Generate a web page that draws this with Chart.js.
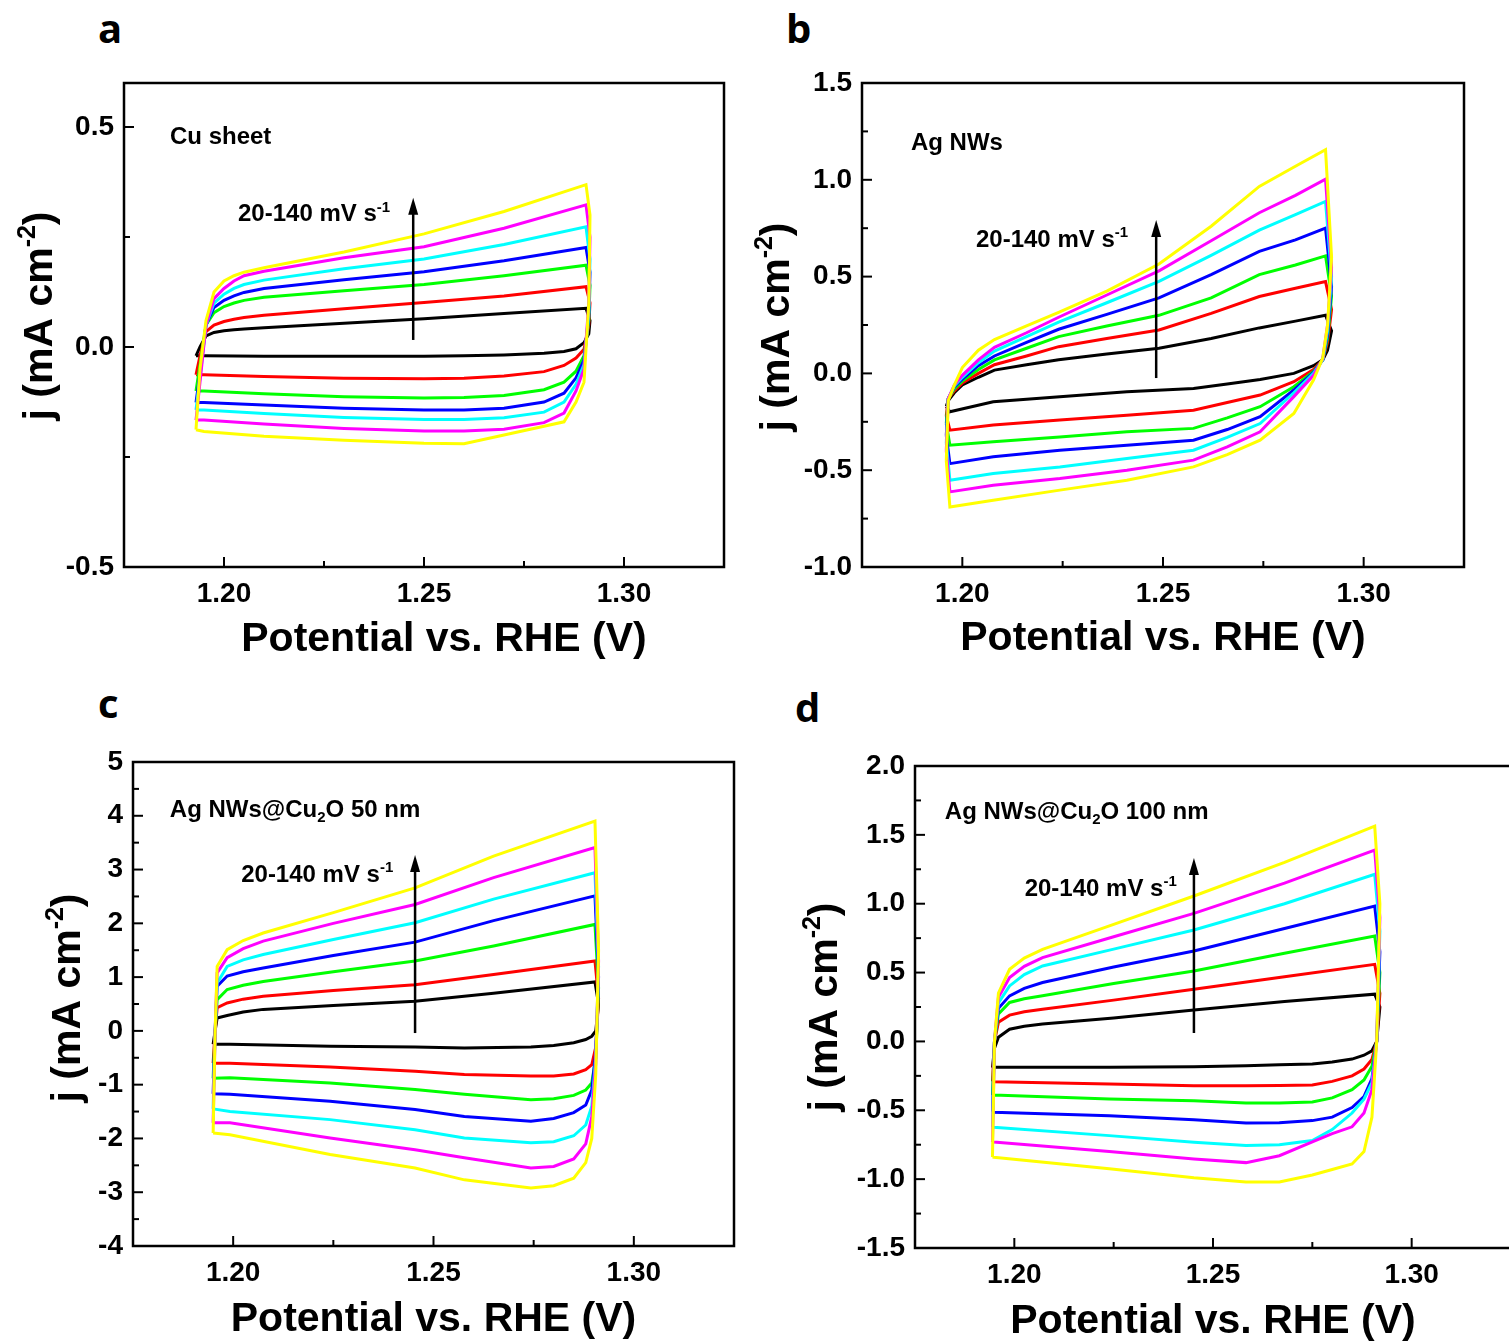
<!DOCTYPE html>
<html>
<head>
<meta charset="utf-8">
<title>CV curves</title>
<script src="https://cdn.jsdelivr.net/npm/chart.js@4.4.0/dist/chart.umd.min.js"></script>
<style>
  html, body { margin: 0; padding: 0; background: #fff; }
  body { width: 1509px; height: 1342px; overflow: hidden; position: relative; }
  canvas { position: absolute; }
  .tag { position: absolute; font: bold 40px 'Open Sans', sans-serif; line-height: 40px; color: #000; }
</style>
</head>
<body>
<div class="tag" style="left:98px; top:8px">a</div>
<div class="tag" style="left:786px; top:8px">b</div>
<div class="tag" style="left:98px; top:683px">c</div>
<div class="tag" style="left:795px; top:687px">d</div>

<canvas id="cvA" width="760" height="640" style="left:0px; top:40px"></canvas>
<canvas id="cvB" width="769" height="640" style="left:740px; top:40px"></canvas>
<canvas id="cvC" width="760" height="627" style="left:0px; top:715px"></canvas>
<canvas id="cvD" width="760" height="622" style="left:760px; top:720px"></canvas>

<script>
const FONT = "'Liberation Sans', Arial, Helvetica, sans-serif";
const sweepColors = ['#000000', '#ff0000', '#00ff00', '#0000ff', '#00ffff', '#ff00ff', '#ffff00'];
const scanRates = [20, 40, 60, 80, 100, 120, 140];

const xMajor = [1.20, 1.25, 1.30];
const xMinor = [1.225, 1.275];

// ---- (a) Cu sheet ----
const cuUpX = [1.1930, 1.1940, 1.1955, 1.1975, 1.2000, 1.2025, 1.2050, 1.2100, 1.2300, 1.2500, 1.2700, 1.2905];
const cuUp = [
  [-0.020, 0.000, 0.025, 0.033, 0.037, 0.039, 0.041, 0.044, 0.054, 0.064, 0.076, 0.088],
  [-0.063, -0.020, 0.035, 0.050, 0.058, 0.063, 0.067, 0.072, 0.087, 0.101, 0.116, 0.137],
  [-0.100, -0.040, 0.050, 0.078, 0.092, 0.100, 0.106, 0.113, 0.128, 0.142, 0.162, 0.186],
  [-0.126, -0.060, 0.050, 0.090, 0.106, 0.116, 0.124, 0.133, 0.153, 0.171, 0.196, 0.226],
  [-0.143, -0.070, 0.050, 0.100, 0.120, 0.133, 0.142, 0.152, 0.178, 0.200, 0.233, 0.273],
  [-0.166, -0.080, 0.050, 0.110, 0.133, 0.150, 0.162, 0.172, 0.203, 0.228, 0.270, 0.323],
  [-0.188, -0.050, 0.060, 0.125, 0.150, 0.162, 0.170, 0.180, 0.216, 0.257, 0.308, 0.369]
];
const cuDownX = [1.2915, 1.2912, 1.2900, 1.2880, 1.2850, 1.2800, 1.2700, 1.2600, 1.2500, 1.2300, 1.2100, 1.1950, 1.1930];
const cuDown = [
  [0.060, 0.030, 0.010, -0.004, -0.010, -0.014, -0.018, -0.020, -0.021, -0.021, -0.021, -0.020, -0.020],
  [0.100, 0.050, -0.005, -0.025, -0.042, -0.056, -0.066, -0.071, -0.072, -0.071, -0.067, -0.063, -0.063],
  [0.140, 0.060, -0.020, -0.055, -0.080, -0.097, -0.110, -0.115, -0.116, -0.113, -0.106, -0.100, -0.100],
  [0.170, 0.070, -0.030, -0.070, -0.105, -0.125, -0.139, -0.143, -0.143, -0.139, -0.132, -0.126, -0.126],
  [0.200, 0.080, -0.040, -0.085, -0.125, -0.148, -0.161, -0.165, -0.165, -0.160, -0.151, -0.143, -0.143],
  [0.250, 0.100, -0.050, -0.100, -0.150, -0.172, -0.187, -0.191, -0.191, -0.185, -0.175, -0.166, -0.166],
  [0.300, 0.100, -0.080, -0.125, -0.170, -0.180, -0.200, -0.220, -0.219, -0.212, -0.203, -0.192, -0.188]
];
const cuTicks = [-0.5, 0.0, 0.5];
const cuMinor = [-0.25, 0.25];

// ---- (b) Ag NWs ----
const agUpX = [1.1960, 1.1965, 1.1980, 1.2000, 1.2040, 1.2080, 1.2160, 1.2240, 1.2360, 1.2490, 1.2620, 1.2740, 1.2830, 1.2905];
const agUp = [
  [-0.17, -0.14, -0.10, -0.06, -0.02, 0.017, 0.045, 0.070, 0.100, 0.130, 0.180, 0.235, 0.270, 0.300],
  [-0.22, -0.13, -0.09, -0.05, 0.00, 0.045, 0.090, 0.138, 0.180, 0.224, 0.310, 0.397, 0.440, 0.474],
  [-0.26, -0.13, -0.08, -0.04, 0.02, 0.070, 0.130, 0.190, 0.245, 0.300, 0.390, 0.510, 0.560, 0.607],
  [-0.32, -0.13, -0.07, -0.03, 0.04, 0.090, 0.160, 0.228, 0.305, 0.390, 0.510, 0.630, 0.690, 0.750],
  [-0.36, -0.13, -0.065, -0.02, 0.055, 0.115, 0.190, 0.265, 0.365, 0.475, 0.610, 0.740, 0.820, 0.888],
  [-0.40, -0.13, -0.06, -0.01, 0.07, 0.135, 0.210, 0.290, 0.405, 0.530, 0.685, 0.830, 0.920, 1.003],
  [-0.45, -0.14, -0.06, 0.03, 0.12, 0.175, 0.245, 0.315, 0.425, 0.565, 0.760, 0.966, 1.070, 1.155]
];
const agDownX = [1.2920, 1.2910, 1.2898, 1.2875, 1.2826, 1.2742, 1.2660, 1.2576, 1.2410, 1.2243, 1.2077, 1.1969];
const agDown = [
  [0.22, 0.12, 0.07, 0.040, 0.000, -0.031, -0.055, -0.078, -0.095, -0.121, -0.147, -0.198],
  [0.33, 0.16, 0.07, 0.020, -0.043, -0.112, -0.150, -0.190, -0.216, -0.241, -0.267, -0.293],
  [0.40, 0.18, 0.07, 0.010, -0.069, -0.172, -0.230, -0.284, -0.302, -0.328, -0.353, -0.371],
  [0.45, 0.20, 0.07, 0.005, -0.086, -0.224, -0.290, -0.345, -0.371, -0.397, -0.431, -0.466],
  [0.50, 0.22, 0.07, 0.000, -0.100, -0.259, -0.330, -0.397, -0.440, -0.483, -0.517, -0.552],
  [0.55, 0.25, 0.075, -0.010, -0.120, -0.302, -0.380, -0.448, -0.500, -0.543, -0.578, -0.612],
  [0.60, 0.25, 0.08, -0.034, -0.207, -0.345, -0.420, -0.483, -0.552, -0.603, -0.655, -0.690]
];
const agTicks = [-1.0, -0.5, 0.0, 0.5, 1.0, 1.5];
const agMinor = [-0.75, -0.25, 0.25, 0.75, 1.25];

// ---- (c) Ag NWs@Cu2O 50 nm ----
const c50UpX = [1.1950, 1.1955, 1.1960, 1.1985, 1.2025, 1.2075, 1.2250, 1.2454, 1.2650, 1.2903];
const c50Up = [
  [-0.25, 0.0, 0.24, 0.285, 0.35, 0.40, 0.47, 0.55, 0.70, 0.91],
  [-0.60, 0.0, 0.43, 0.52, 0.59, 0.645, 0.75, 0.86, 1.05, 1.30],
  [-0.88, 0.0, 0.58, 0.77, 0.85, 0.92, 1.10, 1.30, 1.58, 1.98],
  [-1.17, 0.0, 0.83, 1.02, 1.10, 1.17, 1.40, 1.65, 2.05, 2.51],
  [-1.45, 0.0, 0.89, 1.20, 1.32, 1.42, 1.70, 2.01, 2.45, 2.94],
  [-1.71, 0.0, 1.08, 1.36, 1.53, 1.67, 2.00, 2.35, 2.85, 3.41],
  [-1.90, 0.0, 1.20, 1.51, 1.68, 1.82, 2.20, 2.66, 3.25, 3.90]
];
const c50DownX = [1.2912, 1.2905, 1.2895, 1.2880, 1.2850, 1.2800, 1.2743, 1.2577, 1.2454, 1.2242, 1.1992, 1.1950];
const c50Down = [
  [0.5, 0.0, -0.10, -0.16, -0.22, -0.27, -0.30, -0.32, -0.30, -0.285, -0.25, -0.25],
  [0.6, -0.3, -0.63, -0.72, -0.80, -0.84, -0.84, -0.81, -0.75, -0.67, -0.60, -0.60],
  [0.8, -0.5, -0.97, -1.10, -1.20, -1.26, -1.28, -1.18, -1.09, -0.97, -0.87, -0.88],
  [1.0, -0.4, -1.10, -1.38, -1.52, -1.63, -1.68, -1.59, -1.46, -1.31, -1.18, -1.17],
  [1.2, -0.5, -1.40, -1.75, -1.95, -2.06, -2.08, -1.99, -1.84, -1.65, -1.50, -1.45],
  [1.3, -0.6, -1.60, -2.10, -2.38, -2.52, -2.55, -2.36, -2.21, -1.99, -1.71, -1.71],
  [1.5, -0.8, -2.00, -2.45, -2.74, -2.88, -2.92, -2.77, -2.55, -2.30, -1.93, -1.90]
];
const c50Ticks = [-4, -3, -2, -1, 0, 1, 2, 3, 4, 5];
const c50Minor = [-3.5, -2.5, -1.5, -0.5, 0.5, 1.5, 2.5, 3.5, 4.5];

// ---- (d) Ag NWs@Cu2O 100 nm ----
const c100UpX = [1.1945, 1.1950, 1.1960, 1.1988, 1.2025, 1.2071, 1.2250, 1.2452, 1.2680, 1.2907];
const c100Up = [
  [-0.19, -0.05, 0.03, 0.089, 0.11, 0.126, 0.17, 0.229, 0.29, 0.343],
  [-0.29, 0.0, 0.14, 0.191, 0.215, 0.234, 0.30, 0.379, 0.47, 0.560],
  [-0.39, 0.0, 0.20, 0.283, 0.31, 0.331, 0.42, 0.512, 0.64, 0.766],
  [-0.51, 0.0, 0.24, 0.331, 0.385, 0.428, 0.54, 0.657, 0.82, 0.983],
  [-0.62, 0.0, 0.28, 0.403, 0.485, 0.548, 0.67, 0.809, 1.00, 1.213],
  [-0.73, 0.0, 0.32, 0.464, 0.545, 0.609, 0.76, 0.930, 1.15, 1.389],
  [-0.84, 0.0, 0.35, 0.524, 0.605, 0.669, 0.85, 1.056, 1.30, 1.563]
];
const c100DownX = [1.2920, 1.2912, 1.2900, 1.2880, 1.2850, 1.2800, 1.2750, 1.2667, 1.2583, 1.2452, 1.2239, 1.1948];
const c100Down = [
  [0.25, 0.0, -0.068, -0.10, -0.128, -0.15, -0.164, -0.17, -0.176, -0.184, -0.188, -0.188],
  [0.35, 0.0, -0.13, -0.20, -0.25, -0.29, -0.316, -0.32, -0.321, -0.321, -0.309, -0.292],
  [0.50, 0.0, -0.18, -0.28, -0.35, -0.41, -0.44, -0.447, -0.447, -0.43, -0.418, -0.389],
  [0.65, 0.0, -0.27, -0.40, -0.48, -0.55, -0.575, -0.59, -0.592, -0.568, -0.539, -0.514],
  [0.80, 0.0, -0.30, -0.42, -0.52, -0.64, -0.72, -0.75, -0.756, -0.732, -0.684, -0.623],
  [0.90, 0.0, -0.35, -0.52, -0.62, -0.67, -0.73, -0.83, -0.88, -0.853, -0.80, -0.73],
  [1.00, 0.0, -0.55, -0.80, -0.89, -0.93, -0.97, -1.02, -1.02, -0.99, -0.925, -0.841]
];
const c100Ticks = [-1.5, -1.0, -0.5, 0.0, 0.5, 1.0, 1.5, 2.0];
const c100Minor = [-1.25, -0.75, -0.25, 0.25, 0.75, 1.25, 1.75];

const rateText = [['20-140 mV s'], ['-1', 'sup']];

function loopPoints(upX, upY, downX, downY) {
  const pts = upX.map((x, i) => ({ x: x, y: upY[i] }));
  downX.forEach((x, i) => pts.push({ x: x, y: downY[i] }));
  pts.push(pts[0]);
  return pts;
}

// text with super/subscript pieces, y is the baseline
function drawRich(ctx, segs, x, y, size, align) {
  const fontFor = m => 'bold ' + Math.round(m ? size * 0.62 : size) + 'px ' + FONT;
  let total = 0;
  const widths = segs.map(s => {
    ctx.font = fontFor(s[1]);
    const w = ctx.measureText(s[0]).width;
    total += w;
    return w;
  });
  let cx = align === 'center' ? x - total / 2 : x;
  segs.forEach((s, i) => {
    ctx.font = fontFor(s[1]);
    const dy = s[1] === 'sup' ? -size * 0.4 : (s[1] === 'sub' ? size * 0.22 : 0);
    ctx.fillText(s[0], cx, y + dy);
    cx += widths[i];
  });
}

const cvFrame = {
  id: 'cvFrame',
  afterDatasetsDraw(chart, args, o) {
    const ctx = chart.ctx, a = chart.chartArea;
    const sx = chart.scales.x, sy = chart.scales.y;
    ctx.save();
    ctx.strokeStyle = '#000';
    ctx.fillStyle = '#000';
    ctx.textAlign = 'left';
    ctx.textBaseline = 'alphabetic';

    ctx.lineWidth = 2.5;
    ctx.strokeRect(a.left, a.top, a.right - a.left, a.bottom - a.top);

    // inward ticks, bottom and left only
    ctx.lineWidth = 2;
    const tk = (vals, len, isX) => vals.forEach(v => {
      ctx.beginPath();
      if (isX) {
        const p = sx.getPixelForValue(v);
        ctx.moveTo(p, a.bottom);
        ctx.lineTo(p, a.bottom - len);
      } else {
        const p = sy.getPixelForValue(v);
        ctx.moveTo(a.left, p);
        ctx.lineTo(a.left + len, p);
      }
      ctx.stroke();
    });
    tk(xMajor, 10, true);
    tk(xMinor, 6, true);
    tk(o.yMajor, 10, false);
    tk(o.yMinor, 6, false);

    // sample name and scan-rate note
    const ns = 24;
    drawRich(ctx, o.name, sx.getPixelForValue(o.nameAt[0]), sy.getPixelForValue(o.nameAt[1]) + 0.358 * ns, ns, 'left');
    drawRich(ctx, rateText, sx.getPixelForValue(o.rateAt[0]), sy.getPixelForValue(o.rateAt[1]) + 0.358 * ns, ns, 'left');

    // arrow
    const ax = sx.getPixelForValue(o.arrow[0]);
    const y0 = sy.getPixelForValue(o.arrow[1]), y1 = sy.getPixelForValue(o.arrow[2]);
    ctx.lineWidth = 2.5;
    ctx.beginPath();
    ctx.moveTo(ax, y0);
    ctx.lineTo(ax, y1 + 12);
    ctx.stroke();
    ctx.beginPath();
    ctx.moveTo(ax, y1);
    ctx.lineTo(ax - 5, y1 + 17);
    ctx.lineTo(ax + 5, y1 + 17);
    ctx.closePath();
    ctx.fill();

    // axis titles
    const ts = 41;
    drawRich(ctx, [['Potential vs. RHE (V)']], (a.left + a.right) / 2 + o.xTitle[0], a.bottom + o.xTitle[1] + 0.358 * ts, ts, 'center');
    ctx.translate(a.left - o.yTitle[0], (a.top + a.bottom) / 2 + o.yTitle[1]);
    ctx.rotate(-Math.PI / 2);
    drawRich(ctx, [['j (mA cm'], ['-2', 'sup'], [')']], 0, 0.358 * ts, ts, 'center');
    ctx.restore();
  }
};

function makePanel(id, geo, yMin, yMax, yTicks, yMinor, fmt, upX, up, downX, down, notes) {
  const datasets = sweepColors.map((c, i) => ({
    label: scanRates[i] + ' mV/s',
    data: loopPoints(upX, up[i], downX, down[i]),
    showLine: true,
    borderColor: c,
    backgroundColor: c,
    borderWidth: 3,
    pointRadius: 0,
    tension: 0,
    fill: false,
    order: sweepColors.length - 1 - i
  }));
  const tickFont = { family: FONT, size: 28, weight: 'bold' };
  new Chart(document.getElementById(id), {
    type: 'scatter',
    data: { datasets: datasets },
    options: {
      responsive: false,
      animation: false,
      devicePixelRatio: 1,
      layout: { padding: { top: geo.top, right: geo.right, left: 0, bottom: 0 } },
      plugins: {
        legend: { display: false },
        tooltip: { enabled: false },
        cvFrame: Object.assign({ yMajor: yTicks, yMinor: yMinor }, notes)
      },
      scales: {
        x: {
          type: 'linear', min: 1.175, max: 1.325,
          afterBuildTicks: s => { s.ticks = xMajor.map(v => ({ value: v })); },
          afterFit: s => { s.height = geo.xh; },
          ticks: { callback: v => v.toFixed(2), font: tickFont, color: '#000', padding: 10, maxRotation: 0, autoSkip: false },
          grid: { display: false, drawTicks: false, tickLength: 0 },
          border: { display: false }
        },
        y: {
          type: 'linear', min: yMin, max: yMax,
          afterBuildTicks: s => { s.ticks = yTicks.map(v => ({ value: v })); },
          afterFit: s => { s.width = geo.yw; },
          ticks: { callback: fmt, font: tickFont, color: '#000', padding: 10, autoSkip: false },
          grid: { display: false, drawTicks: false, tickLength: 0 },
          border: { display: false }
        }
      }
    },
    plugins: [cvFrame]
  });
}

const oneDec = v => v.toFixed(1);
const noDec = v => String(v);

makePanel('cvA', { top: 43, right: 36, yw: 124, xh: 113 }, -0.5, 0.6, cuTicks, cuMinor, oneDec,
  cuUpX, cuUp, cuDownX, cuDown, {
    name: [['Cu sheet']], nameAt: [1.1865, 0.482],
    rateAt: [1.2035, 0.305], arrow: [1.2473, 0.016, 0.339],
    xTitle: [20, 69], yTitle: [87, -9]
  });

makePanel('cvB', { top: 43, right: 45, yw: 122, xh: 113 }, -1.0, 1.5, agTicks, agMinor, oneDec,
  agUpX, agUp, agDownX, agDown, {
    name: [['Ag NWs']], nameAt: [1.1872, 1.196],
    rateAt: [1.2034, 0.699], arrow: [1.2483, -0.024, 0.792],
    xTitle: [0, 68], yTitle: [88, 2]
  });

makePanel('cvC', { top: 47, right: 26, yw: 133, xh: 96 }, -4, 5, c50Ticks, c50Minor, noDec,
  c50UpX, c50Up, c50DownX, c50Down, {
    name: [['Ag NWs@Cu'], ['2', 'sub'], ['O 50 nm']], nameAt: [1.1842, 4.145],
    rateAt: [1.2020, 2.936], arrow: [1.2454, -0.04, 3.27],
    xTitle: [0, 70], yTitle: [68, -6]
  });

makePanel('cvD', { top: 46, right: 9, yw: 155, xh: 94 }, -1.5, 2.0, c100Ticks, c100Minor, oneDec,
  c100UpX, c100Up, c100DownX, c100Down, {
    name: [['Ag NWs@Cu'], ['2', 'sub'], ['O 100 nm']], nameAt: [1.1825, 1.68],
    rateAt: [1.2026, 1.121], arrow: [1.2452, 0.061, 1.332],
    xTitle: [0, 70], yTitle: [93, 0]
  });
</script>
</body>
</html>
